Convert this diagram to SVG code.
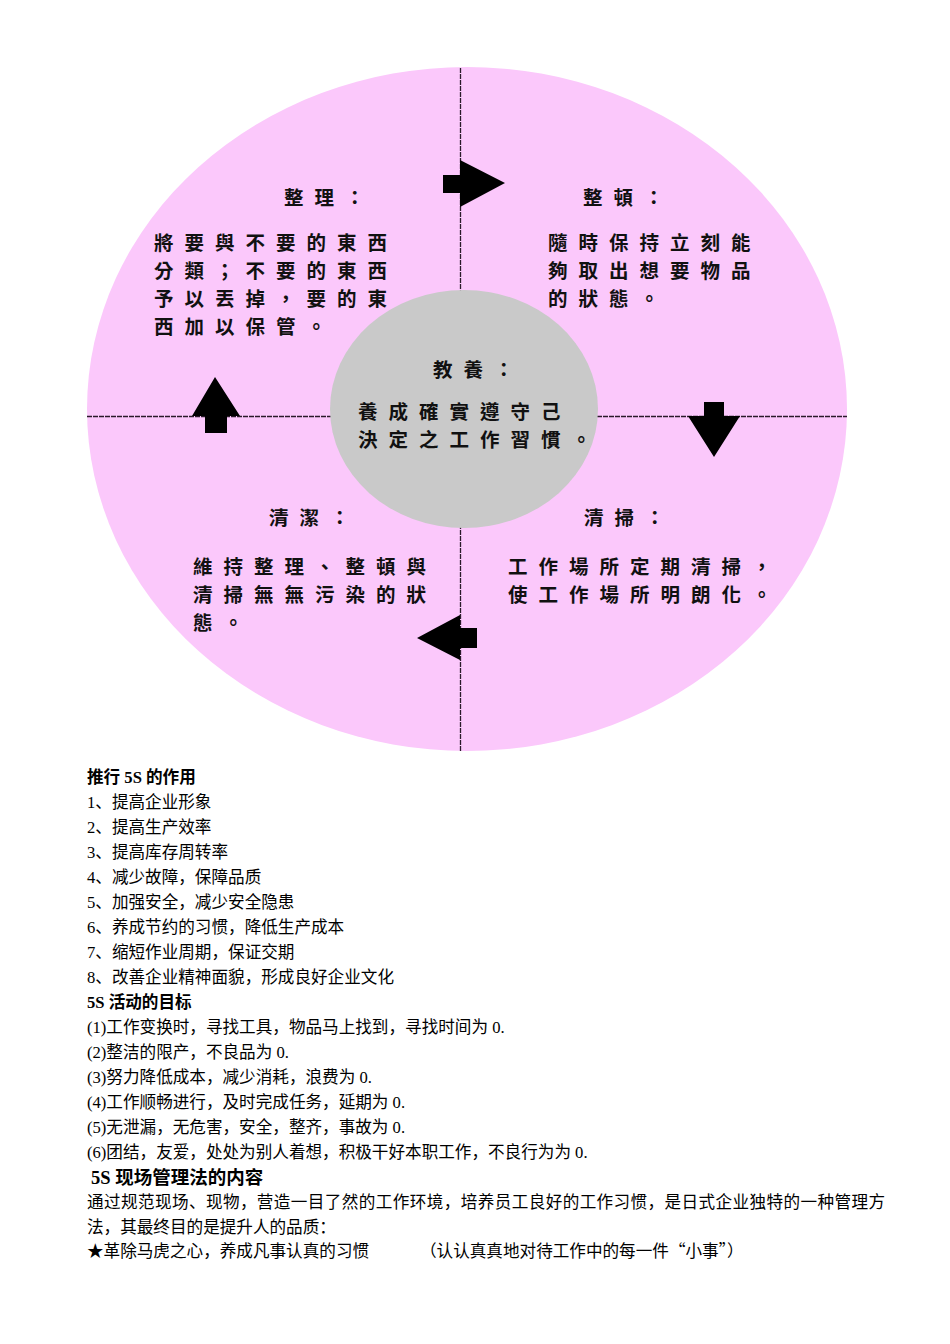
<svg xmlns="http://www.w3.org/2000/svg" width="950" height="1344" viewBox="0 0 950 1344">
<style>
.dg{font-family:"Noto Sans CJK TC","Noto Sans CJK SC",sans-serif;font-size:19.5px;font-weight:bold;letter-spacing:11px;fill:#111}
.tx{font-family:"Liberation Serif","Noto Sans CJK SC",serif;font-size:16.6px;fill:#000}
.hd{font-weight:bold}
.cjk{font-family:"Noto Sans CJK SC",sans-serif}
.ln{stroke:#2a1a2a;stroke-width:1.3;stroke-dasharray:5 1;fill:none}
.ar{fill:#000}
</style>
<rect width="950" height="1344" fill="#fff"/>
<g id="wheel">
<ellipse cx="467" cy="409" rx="380" ry="342" fill="#fbc8fb"/>
</g>
<g id="connectors">
<line class="ln" x1="460.5" y1="68" x2="460.5" y2="751"/>
<line class="ln" x1="87" y1="416.5" x2="847" y2="416.5"/>
</g>
<g id="center-node">
<ellipse cx="464" cy="409" rx="134" ry="119" fill="#c9c9c9"/>
<text class="dg" x="433" y="377">教養：</text>
<text class="dg"><tspan x="358" y="419">養成確實遵守己</tspan><tspan x="358" y="447">決定之工作習慣。</tspan></text>
</g>
<g id="arrows">
<polygon class="ar" points="443,175 460,175 460,160 505,183 460,207 460,193 443,193"/>
<polygon class="ar" points="704,402 724,402 724,416 740,416 714,457 688,416 704,416"/>
<polygon class="ar" points="477,628 477,648 460,648 460,660 417,638 460,615 460,628"/>
<polygon class="ar" points="205,433 205,416 192,416 215,377 240,416 227,416 227,433"/>
</g>
<g id="seiri">
<text class="dg" x="284" y="205">整理：</text>
<text class="dg"><tspan x="154" y="250">將要與不要的東西</tspan><tspan x="154" y="278">分類；不要的東西</tspan><tspan x="154" y="306">予以丟掉，要的東</tspan><tspan x="154" y="334">西加以保管。</tspan></text>
</g>
<g id="seiton">
<text class="dg" x="583" y="205">整頓：</text>
<text class="dg"><tspan x="548" y="250">隨時保持立刻能</tspan><tspan x="548" y="278">夠取出想要物品</tspan><tspan x="548" y="306">的狀態。</tspan></text>
</g>
<g id="seiketsu">
<text class="dg" x="269" y="525">清潔：</text>
<text class="dg"><tspan x="193" y="574">維持整理、整頓與</tspan><tspan x="193" y="602">清掃無無污染的狀</tspan><tspan x="193" y="630">態。</tspan></text>
</g>
<g id="seiso">
<text class="dg" x="584" y="525">清掃：</text>
<text class="dg"><tspan x="508" y="574">工作場所定期清掃，</tspan><tspan x="508" y="602">使工作場所明朗化。</tspan></text>
</g>
<g id="text-body">
<text class="tx hd" x="87" y="783">推行 5S 的作用</text>
<text class="tx" x="87" y="808">1、提高企业形象</text>
<text class="tx" x="87" y="833">2、提高生产效率</text>
<text class="tx" x="87" y="858">3、提高库存周转率</text>
<text class="tx" x="87" y="883">4、减少故障，保障品质</text>
<text class="tx" x="87" y="908">5、加强安全，减少安全隐患</text>
<text class="tx" x="87" y="933">6、养成节约的习惯，降低生产成本</text>
<text class="tx" x="87" y="958">7、缩短作业周期，保证交期</text>
<text class="tx" x="87" y="983">8、改善企业精神面貌，形成良好企业文化</text>
<text class="tx hd" x="87" y="1008">5S 活动的目标</text>
<text class="tx" x="87" y="1033">(1)工作变换时，寻找工具，物品马上找到，寻找时间为 0.</text>
<text class="tx" x="87" y="1058">(2)整洁的限产，不良品为 0.</text>
<text class="tx" x="87" y="1083">(3)努力降低成本，减少消耗，浪费为 0.</text>
<text class="tx" x="87" y="1108">(4)工作顺畅进行，及时完成任务，延期为 0.</text>
<text class="tx" x="87" y="1133">(5)无泄漏，无危害，安全，整齐，事故为 0.</text>
<text class="tx" x="87" y="1158">(6)团结，友爱，处处为别人着想，积极干好本职工作，不良行为为 0.</text>
<text class="tx hd" x="91" y="1184" style="font-size:18.5px">5S 现场管理法的内容</text>
<text class="tx" x="87" y="1208" textLength="798" lengthAdjust="spacing">通过规范现场、现物，营造一目了然的工作环境，培养员工良好的工作习惯，是日式企业独特的一种管理方</text>
<text class="tx" x="87" y="1233">法，其最终目的是提升人的品质：</text>
<text class="tx" x="87" y="1257">★革除马虎之心，养成凡事认真的习惯</text>
<text class="tx cjk" x="420" y="1257">（认认真真地对待工作中的每一件“小事”）</text>
</g>
</svg>
